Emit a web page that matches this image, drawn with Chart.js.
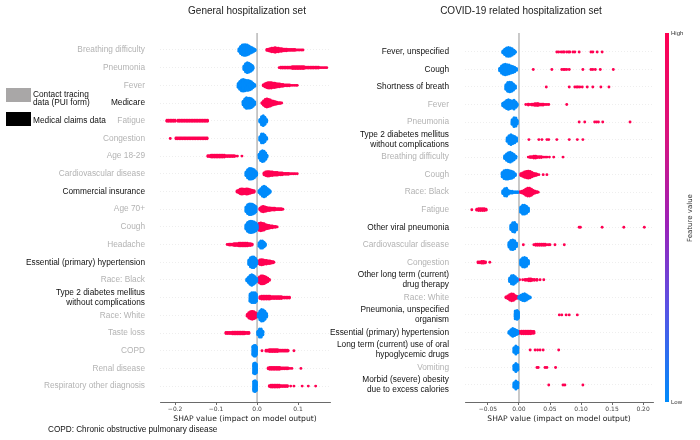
<!DOCTYPE html>
<html><head><meta charset="utf-8">
<script src="https://cdn.jsdelivr.net/npm/chart.js@4"></script>
<style>
body{margin:0;width:700px;height:440px;background:#fff;position:relative;overflow:hidden;font-family:"Liberation Sans",Arial,sans-serif}
canvas{position:absolute;top:0}
#c1{left:0}#c2{left:300px}
.t{position:absolute;top:5px;font-size:10px;line-height:12px;color:#222;white-space:nowrap;transform:translateX(-50%)}
.lg{position:absolute;left:6px;width:25px;height:14px}
.lt{position:absolute;left:33px;font-size:8.3px;line-height:8px;color:#111;white-space:nowrap}
.cb{position:absolute;left:665px;top:33px;width:4px;height:369px;background:linear-gradient(to bottom,#ff0052 0%,#d8147f 28%,#9b22b8 52%,#5a52e4 74%,#008bfb 100%)}
.cl{position:absolute;left:671px;font-size:6px;color:#333}
</style></head><body>
<canvas id="c1" width="350" height="440"></canvas>
<canvas id="c2" width="400" height="440"></canvas>
<div class="t" style="left:247px">General hospitalization set</div>
<div class="t" style="left:521px">COVID-19 related hospitalization set</div>
<div class="lg" style="top:88px;background:#a9a7a7"></div>
<div class="lt" style="top:90px">Contact tracing</div>
<div class="lt" style="top:98px">data (PUI form)</div>
<div class="lg" style="top:112px;background:#000"></div>
<div class="lt" style="top:116px">Medical claims data</div>
<div style="position:absolute;left:48px;top:425px;font-size:8.2px;color:#111;white-space:nowrap">COPD: Chronic obstructive pulmonary disease</div>
<div class="cb"></div>
<div class="cl" style="top:30px">High</div>
<div class="cl" style="top:399px">Low</div>
<div style="position:absolute;left:690px;top:218px;font-family:'DejaVu Sans';font-size:7px;color:#333;white-space:nowrap;transform:translate(-50%,-50%) rotate(-90deg)">Feature value</div>
<script>
// ---------- General hospitalization set ----------
const genFeatures = ["Breathing difficulty","Pneumonia","Fever","Medicare","Fatigue","Congestion","Age 18-29","Cardiovascular disease","Commercial insurance","Age 70+","Cough","Headache","Essential (primary) hypertension","Race: Black","Type 2 diabetes mellitus\nwithout complications","Race: White","Taste loss","COPD","Renal disease","Respiratory other diagnosis"];
const genSource = ["pui","pui","pui","claims","pui","pui","pui","pui","claims","pui","pui","pui","claims","pui","claims","pui","pui","pui","pui","pui"];
const genTicks = [-0.2,-0.1,0.0,0.1];
// [SHAP value, number of stacked samples]
const genLow = [
 [[-0.044,4],[-0.040,9],[-0.036,12],[-0.032,13],[-0.028,13],[-0.024,12],[-0.020,10],[-0.016,8],[-0.012,6],[-0.008,4],[-0.005,2]],
 [[-0.032,5],[-0.028,10],[-0.024,12],[-0.020,11],[-0.016,9],[-0.012,6],[-0.010,3]],
 [[-0.046,5],[-0.042,10],[-0.038,13],[-0.034,14],[-0.030,13],[-0.026,12],[-0.022,12],[-0.018,11],[-0.014,9],[-0.010,6],[-0.006,3]],
 [[-0.034,5],[-0.030,10],[-0.026,13],[-0.022,12],[-0.018,12],[-0.014,11],[-0.010,8],[-0.006,4]],
 [[0.007,4],[0.011,10],[0.015,12],[0.019,9],[0.023,4]],
 [[0.007,5],[0.011,11],[0.015,11],[0.019,8],[0.023,3]],
 [[0.005,5],[0.009,11],[0.013,13],[0.017,12],[0.021,8],[0.024,3]],
 [[-0.027,5],[-0.023,10],[-0.019,13],[-0.015,13],[-0.011,12],[-0.007,10],[-0.003,6],[-0.001,3]],
 [[0.005,3],[0.009,7],[0.013,11],[0.017,13],[0.021,11],[0.025,8],[0.029,5],[0.032,2]],
 [[-0.027,6],[-0.023,11],[-0.019,13],[-0.015,13],[-0.011,12],[-0.007,10],[-0.003,7]],
 [[-0.027,6],[-0.023,11],[-0.019,13],[-0.015,14],[-0.011,13],[-0.007,12],[-0.003,10],[0.000,6]],
 [[0.005,5],[0.009,9],[0.013,9],[0.017,6],[0.020,3]],
 [[-0.020,6],[-0.016,11],[-0.012,13],[-0.008,13],[-0.004,10],[-0.001,5]],
 [[-0.025,3],[-0.021,7],[-0.017,11],[-0.013,13],[-0.009,11],[-0.005,8],[-0.001,4]],
 [[-0.017,9],[-0.013,12],[-0.009,12],[-0.005,12],[-0.002,9]],
 [[0.003,5],[0.007,11],[0.011,14],[0.015,13],[0.019,10],[0.023,5]],
 [[0.002,5],[0.006,10],[0.010,10],[0.014,5]],
 [[-0.010,11],[-0.007,13],[-0.004,13],[-0.002,10]],
 [[-0.008,12],[-0.005,13],[-0.002,11]],
 [[-0.008,12],[-0.005,13],[-0.002,11]]
];
const genHigh = [
 [[0.024,2],[0.028,3],[0.032,4],[0.036,5],[0.040,5],[0.044,6],[0.048,5],[0.052,5],[0.056,4],[0.060,4],[0.064,3],[0.068,3],[0.072,3],[0.076,2],[0.080,2],[0.084,2],[0.088,2],[0.092,2],[0.096,1],[0.100,1],[0.104,1],[0.108,1],[0.112,1]],
 [[0.054,1],[0.058,2],[0.062,2],[0.066,2],[0.070,2],[0.074,2],[0.078,2],[0.082,2],[0.086,3],[0.090,3],[0.094,3],[0.098,3],[0.102,3],[0.106,3],[0.110,3],[0.114,3],[0.118,2],[0.122,2],[0.126,2],[0.130,2],[0.134,2],[0.138,2],[0.142,2],[0.146,2],[0.150,2],[0.154,1],[0.158,1],[0.162,1],[0.166,1],[0.170,1]],
 [[0.015,2],[0.019,4],[0.023,6],[0.027,7],[0.031,7],[0.035,7],[0.039,6],[0.043,6],[0.047,5],[0.051,4],[0.055,4],[0.059,3],[0.063,3],[0.067,2],[0.071,2],[0.075,2],[0.079,2],[0.083,1],[0.087,1],[0.091,1],[0.095,1],[0.098,1]],
 [[0.012,2],[0.016,6],[0.020,9],[0.024,10],[0.028,9],[0.032,8],[0.036,6],[0.040,5],[0.044,4],[0.048,3],[0.052,2],[0.056,2],[0.060,1]],
 [[-0.220,2],[-0.216,2],[-0.212,2],[-0.208,2],[-0.204,2],[-0.200,2],[-0.193,2],[-0.189,2],[-0.185,2],[-0.181,2],[-0.177,2],[-0.173,2],[-0.169,2],[-0.165,2],[-0.161,2],[-0.157,2],[-0.153,2],[-0.149,2],[-0.145,2],[-0.141,2],[-0.137,2],[-0.133,2],[-0.129,2],[-0.125,2],[-0.121,2]],
 [[-0.212,1],[-0.198,2],[-0.194,2],[-0.190,2],[-0.186,2],[-0.182,2],[-0.178,2],[-0.174,2],[-0.170,2],[-0.166,2],[-0.162,2],[-0.158,2],[-0.154,2],[-0.150,2],[-0.146,2],[-0.142,2],[-0.138,2],[-0.134,2],[-0.130,2],[-0.126,2],[-0.122,2]],
 [[-0.120,2],[-0.116,2],[-0.112,3],[-0.108,3],[-0.104,3],[-0.100,3],[-0.096,3],[-0.092,3],[-0.088,3],[-0.084,3],[-0.080,3],[-0.076,2],[-0.072,2],[-0.068,2],[-0.064,2],[-0.060,2],[-0.056,2],[-0.052,1],[-0.048,1],[-0.037,1]],
 [[0.017,3],[0.021,5],[0.025,6],[0.029,6],[0.033,5],[0.037,5],[0.041,4],[0.045,4],[0.049,4],[0.053,3],[0.057,3],[0.061,3],[0.065,2],[0.069,2],[0.073,2],[0.077,2],[0.081,1],[0.085,1],[0.089,1],[0.093,1],[0.098,1]],
 [[-0.049,2],[-0.045,4],[-0.041,6],[-0.037,7],[-0.033,6],[-0.029,6],[-0.025,7],[-0.021,6],[-0.017,5],[-0.013,4],[-0.009,3],[-0.007,2]],
 [[0.007,3],[0.011,6],[0.015,7],[0.019,6],[0.023,5],[0.027,4],[0.031,4],[0.035,3],[0.039,3],[0.043,3],[0.047,2],[0.051,2],[0.055,2],[0.059,2],[0.063,1]],
 [[0.001,5],[0.005,9],[0.009,10],[0.013,9],[0.017,8],[0.021,6],[0.025,5],[0.029,4],[0.033,3],[0.037,3],[0.041,2],[0.045,2],[0.049,1]],
 [[-0.073,1],[-0.068,2],[-0.064,2],[-0.060,2],[-0.056,3],[-0.052,3],[-0.048,3],[-0.044,4],[-0.040,4],[-0.036,4],[-0.032,4],[-0.028,4],[-0.024,4],[-0.020,3],[-0.016,3],[-0.012,2]],
 [[0.003,4],[0.007,6],[0.011,7],[0.015,6],[0.019,5],[0.023,5],[0.027,4],[0.031,4],[0.035,3],[0.039,2],[0.041,1]],
 [[0.002,4],[0.006,8],[0.010,10],[0.014,10],[0.018,9],[0.022,7],[0.026,5],[0.030,2]],
 [[0.007,3],[0.011,4],[0.015,4],[0.019,4],[0.023,4],[0.027,4],[0.031,4],[0.035,3],[0.039,3],[0.043,3],[0.047,3],[0.051,3],[0.055,3],[0.059,3],[0.063,2],[0.067,2],[0.071,2],[0.075,2],[0.079,2]],
 [[-0.024,3],[-0.020,7],[-0.016,9],[-0.012,10],[-0.008,9],[-0.004,7],[-0.001,4]],
 [[-0.076,2],[-0.072,2],[-0.068,2],[-0.064,2],[-0.060,3],[-0.056,3],[-0.052,3],[-0.048,3],[-0.044,3],[-0.040,3],[-0.036,3],[-0.032,3],[-0.028,2],[-0.024,2],[-0.020,2]],
 [[0.012,1],[0.022,2],[0.026,2],[0.030,3],[0.034,3],[0.038,3],[0.042,3],[0.046,3],[0.050,3],[0.054,2],[0.058,2],[0.062,2],[0.066,2],[0.070,2],[0.074,2],[0.076,1],[0.090,1]],
 [[0.027,2],[0.031,3],[0.035,3],[0.039,3],[0.043,3],[0.047,3],[0.051,3],[0.055,3],[0.059,2],[0.063,2],[0.067,2],[0.071,2],[0.075,2],[0.080,1],[0.085,1],[0.107,1]],
 [[0.030,2],[0.034,3],[0.038,3],[0.042,3],[0.046,3],[0.050,3],[0.054,3],[0.058,2],[0.062,2],[0.066,2],[0.070,2],[0.074,2],[0.082,1],[0.090,1],[0.110,1],[0.125,1],[0.143,1]]
];

// ---------- COVID-19 related hospitalization set ----------
const covFeatures = ["Fever, unspecified","Cough","Shortness of breath","Fever","Pneumonia","Type 2 diabetes mellitus\nwithout complications","Breathing difficulty","Cough","Race: Black","Fatigue","Other viral pneumonia","Cardiovascular disease","Congestion","Other long term (current)\ndrug therapy","Race: White","Pneumonia, unspecified\norganism","Essential (primary) hypertension","Long term (current) use of oral\nhypoglycemic drugs","Vomiting","Morbid (severe) obesity\ndue to excess calories"];
const covSource = ["claims","claims","claims","pui","pui","claims","pui","pui","pui","pui","claims","pui","pui","claims","pui","claims","claims","claims","pui","claims"];
const covTicks = [-0.05,0.00,0.05,0.10,0.15,0.20];
const covLow = [
 [[-0.026,3],[-0.023,7],[-0.020,10],[-0.017,11],[-0.014,10],[-0.011,8],[-0.008,5],[-0.006,2]],
 [[-0.031,4],[-0.028,9],[-0.025,12],[-0.022,13],[-0.019,12],[-0.016,11],[-0.013,9],[-0.010,8],[-0.007,6],[-0.004,3]],
 [[-0.021,6],[-0.018,11],[-0.015,12],[-0.012,11],[-0.009,8],[-0.006,4]],
 [[-0.026,4],[-0.023,7],[-0.020,10],[-0.017,12],[-0.014,10],[-0.011,9],[-0.008,11],[-0.005,7],[-0.003,3]],
 [[-0.011,6],[-0.008,11],[-0.005,10],[-0.003,5]],
 [[-0.019,5],[-0.016,10],[-0.013,12],[-0.010,10],[-0.007,8],[-0.004,5]],
 [[-0.023,4],[-0.020,8],[-0.017,11],[-0.014,12],[-0.011,10],[-0.008,7],[-0.005,3]],
 [[-0.027,6],[-0.024,10],[-0.021,11],[-0.018,11],[-0.015,10],[-0.012,9],[-0.009,7],[-0.006,3]],
 [[-0.026,4],[-0.023,9],[-0.020,10],[-0.017,5],[-0.014,3],[-0.011,3],[-0.008,2],[-0.005,2],[-0.002,2]],
 [[0.003,7],[0.006,11],[0.009,11],[0.012,9],[0.015,5]],
 [[-0.013,6],[-0.010,11],[-0.007,12],[-0.004,7]],
 [[-0.016,6],[-0.013,11],[-0.010,12],[-0.007,10],[-0.004,5]],
 [[0.003,7],[0.006,11],[0.009,12],[0.012,10],[0.015,5]],
 [[-0.015,5],[-0.012,10],[-0.009,11],[-0.006,8],[-0.003,4]],
 [[0.000,3],[0.003,6],[0.006,8],[0.009,9],[0.012,7],[0.015,4],[0.018,2]],
 [[-0.006,10],[-0.003,11],[-0.001,8]],
 [[-0.016,3],[-0.013,7],[-0.010,10],[-0.007,8],[-0.004,6],[-0.002,4]],
 [[-0.008,6],[-0.005,10],[-0.002,7]],
 [[-0.008,6],[-0.005,10],[-0.002,7]],
 [[-0.008,6],[-0.005,10],[-0.002,7]]
];
const covHigh = [
 [[0.061,1],[0.064,1],[0.068,1],[0.071,1],[0.073,1],[0.077,1],[0.080,1],[0.082,1],[0.087,1],[0.090,1],[0.097,1],[0.116,1],[0.119,1],[0.126,1],[0.134,1]],
 [[0.023,1],[0.053,1],[0.069,1],[0.072,1],[0.074,1],[0.077,1],[0.081,1],[0.103,1],[0.116,1],[0.119,1],[0.123,1],[0.131,1],[0.152,1]],
 [[0.044,1],[0.081,1],[0.090,1],[0.093,1],[0.095,1],[0.098,1],[0.102,1],[0.110,1],[0.119,1],[0.132,1],[0.145,1]],
 [[0.011,1],[0.015,2],[0.018,1],[0.021,2],[0.024,2],[0.026,3],[0.029,3],[0.031,3],[0.034,2],[0.037,2],[0.039,2],[0.042,1],[0.045,1],[0.048,1],[0.077,1]],
 [[0.097,1],[0.106,1],[0.122,1],[0.125,1],[0.128,1],[0.135,1],[0.179,1]],
 [[0.016,1],[0.032,1],[0.037,1],[0.045,1],[0.048,1],[0.061,1],[0.081,1],[0.094,1],[0.103,1]],
 [[0.015,1],[0.018,2],[0.021,2],[0.024,3],[0.027,3],[0.030,2],[0.033,2],[0.036,2],[0.039,1],[0.042,1],[0.045,1],[0.049,1],[0.056,1],[0.071,1]],
 [[0.003,3],[0.006,5],[0.009,7],[0.012,8],[0.015,9],[0.018,8],[0.021,6],[0.024,4],[0.027,3],[0.029,2],[0.032,1],[0.039,1],[0.045,1]],
 [[0.002,2],[0.005,3],[0.008,5],[0.011,8],[0.014,10],[0.017,10],[0.020,8],[0.023,5],[0.026,3],[0.029,2],[0.031,1]],
 [[-0.076,1],[-0.068,2],[-0.065,3],[-0.062,3],[-0.059,3],[-0.056,3],[-0.053,2]],
 [[0.097,1],[0.099,1],[0.134,1],[0.169,1],[0.202,1]],
 [[0.007,1],[0.024,1],[0.027,2],[0.030,2],[0.033,2],[0.036,2],[0.039,2],[0.042,2],[0.045,1],[0.048,1],[0.050,1],[0.058,1],[0.073,1]],
 [[-0.066,2],[-0.063,2],[-0.060,3],[-0.057,3],[-0.054,2],[-0.047,1]],
 [[0.001,1],[0.006,1],[0.010,2],[0.013,2],[0.016,3],[0.019,3],[0.022,2],[0.025,2],[0.029,2],[0.034,1],[0.040,1]],
 [[-0.021,2],[-0.018,4],[-0.015,7],[-0.012,9],[-0.009,8],[-0.006,5],[-0.003,3]],
 [[0.065,1],[0.069,1],[0.076,1],[0.081,1],[0.094,1]],
 [[0.001,3],[0.004,4],[0.007,4],[0.010,4],[0.013,4],[0.016,4],[0.019,4],[0.022,3],[0.024,3]],
 [[0.018,1],[0.026,1],[0.030,1],[0.034,1],[0.039,1],[0.064,1]],
 [[0.029,1],[0.031,1],[0.042,1],[0.045,1],[0.059,1]],
 [[0.048,1],[0.071,1],[0.074,1],[0.103,1]]
];

const LOW_COLOR = '#008bfb', HIGH_COLOR = '#ff0052';
const STEP = 0.05; // vertical stacking step (row units) for beeswarm layout

function swarm(rows){
  const pts = [];
  rows.forEach((row, i) => row.forEach(([x, n]) => {
    for (let k = 0; k < n; k++) pts.push({x: x, y: i + (k - (n - 1) / 2) * STEP});
  }));
  return pts;
}

const zeroLine = {
  id: 'zeroLine',
  beforeDatasetsDraw(chart){
    const {ctx, chartArea, scales} = chart;
    const x = scales.x.getPixelForValue(0);
    ctx.save();
    ctx.strokeStyle = '#b8b8b8'; ctx.lineWidth = 1.5;
    ctx.beginPath(); ctx.moveTo(x, chartArea.top); ctx.lineTo(x, chartArea.bottom); ctx.stroke();
    ctx.restore();
  }
};

function makeChart(id, feats, src, low, high, ticks, xmin, xmax, ymin, ymax, axisW, padR, labPad, dec){
  new Chart(document.getElementById(id), {
    type: 'scatter',
    data: {datasets: [
      {data: swarm(low), backgroundColor: LOW_COLOR, borderWidth: 0, pointRadius: 1.5, pointHoverRadius: 1.5},
      {data: swarm(high), backgroundColor: HIGH_COLOR, borderWidth: 0, pointRadius: 1.45, pointHoverRadius: 1.45}
    ]},
    options: {
      responsive: false, animation: false, devicePixelRatio: 1,
      layout: {padding: {top: 33, right: padR, bottom: 15, left: 0}},
      plugins: {legend: {display: false}, tooltip: {enabled: false}, title: {display: false}},
      scales: {
        x: {
          type: 'linear', min: xmin, max: xmax,
          afterBuildTicks: s => { s.ticks = ticks.map(v => ({value: v})); },
          afterFit: s => { s.height = 23; },
          ticks: {
            font: {family: 'DejaVu Sans', size: 6}, color: '#444', padding: 1, maxRotation: 0, autoSkip: false,
            callback: v => (v < -1e-9 ? '\u2212' : '') + Math.abs(v).toFixed(dec)
          },
          grid: {drawOnChartArea: false, drawTicks: true, tickLength: 3, color: '#444', lineWidth: 0.8},
          border: {display: true, color: '#444', width: 0.8},
          title: {display: true, text: 'SHAP value (impact on model output)', font: {family: 'DejaVu Sans', size: 7.6}, color: '#222', padding: {top: 0, bottom: 1}}
        },
        y: {
          type: 'linear', reverse: true, min: ymin, max: ymax,
          afterBuildTicks: s => { s.ticks = feats.map((_, i) => ({value: i})); },
          afterFit: s => { s.width = axisW; },
          ticks: {
            autoSkip: false, crossAlign: 'near', padding: labPad,
            font: {family: 'Liberation Sans', size: 8.3, lineHeight: 1.2},
            color: c => src[c.index] === 'pui' ? '#b3b3b3' : '#111',
            callback: (v) => { const t = feats[Math.round(v)]; return t.indexOf('\n') >= 0 ? t.split('\n') : t; }
          },
          grid: {color: '#e2e2e2', lineWidth: 0.6, drawTicks: false},
          border: {display: false, dash: [1, 2]}
        }
      }
    },
    plugins: [zeroLine]
  });
}

makeChart('c1', genFeatures, genSource, genLow, genHigh, genTicks, -0.237, 0.178, -0.96, 19.9, 160, 20, 15, 1);
makeChart('c2', covFeatures, covSource, covLow, covHigh, covTicks, -0.087, 0.216, -1.08, 19.97, 165, 47, 16, 2);
</script>
</body></html>
